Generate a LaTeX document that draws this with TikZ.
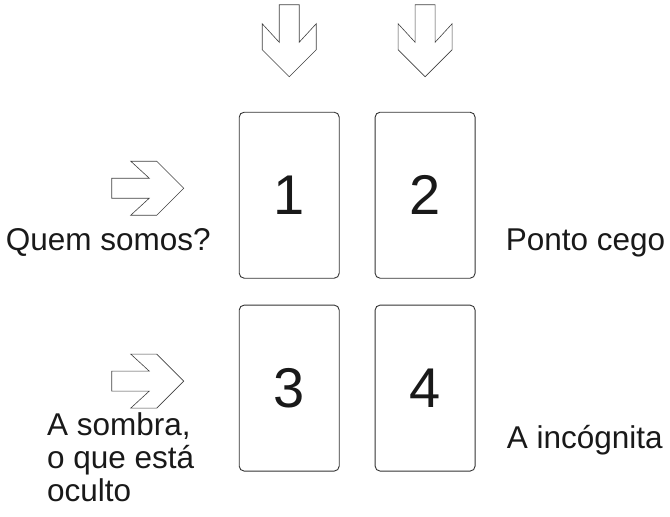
\documentclass[tikz,border=0pt]{standalone}
\usepackage{fontspec}
\setmainfont{Liberation Sans}
\usetikzlibrary{positioning}

\tikzset{every picture/.style={line width=0.75pt}}
\tikzset{
	card/.style={draw=black!80, line width=0.9pt, rounded corners=5pt, minimum width=100pt, minimum height=166pt, inner sep=0pt, font=\fontsize{56}{56}\selectfont, text=black!90},
	label text/.style={inner sep=0pt, font=\fontsize{31.5}{30}\selectfont, text=black!90, align=left},
	pics/hollow arrow/.style={code={
		\draw [draw=black!75, line width=0.6pt, line join=miter] (-72,-10) -- (-34.5,-10) -- (-53,-27) -- (-27,-27) -- (0,0) -- (-27,27) -- (-53,27) -- (-34.5,10) -- (-72,10) -- cycle ;
	}}
}

\begin{document}
\begin{tikzpicture}[x=1pt,y=-1pt]
	\useasboundingbox (0,0) rectangle (670,517);
	
	%Cards
	\node [card] (c1) at (289.2,195.2) {1};
	\node [card, right=35pt of c1] (c2) {2};
	\node [card, below=26pt of c1] (c3) {3};
	\node [card, right=35pt of c3] (c4) {4};
	
	%Down arrows
	\pic [rotate=-90] at ([yshift=35pt]c1.north) {hollow arrow};
	\pic [rotate=-90] at ([yshift=35pt]c2.north) {hollow arrow};
	%Right arrows
	\pic at ([xshift=-55pt,yshift=7pt]c1.west) {hollow arrow};
	\pic at ([xshift=-55pt,yshift=7pt]c3.west) {hollow arrow};
	
	% Text Node
	\node [label text, anchor=base west] (quem) at (5.5,250) {Quem somos?};
	% Text Node
	\node [label text, anchor=base west] (ponto) at (505.5,250.7) {Ponto cego};
	% Text Node
	\node [label text, anchor=base west] (sombra) at (46.7,501.7) {A sombra,\\[3pt]o que está\\[3pt]oculto};
	% Text Node
	\node [label text, anchor=base west] (incog) at (506.5,448.3) {A incógnita};
	
\end{tikzpicture}
\end{document}
